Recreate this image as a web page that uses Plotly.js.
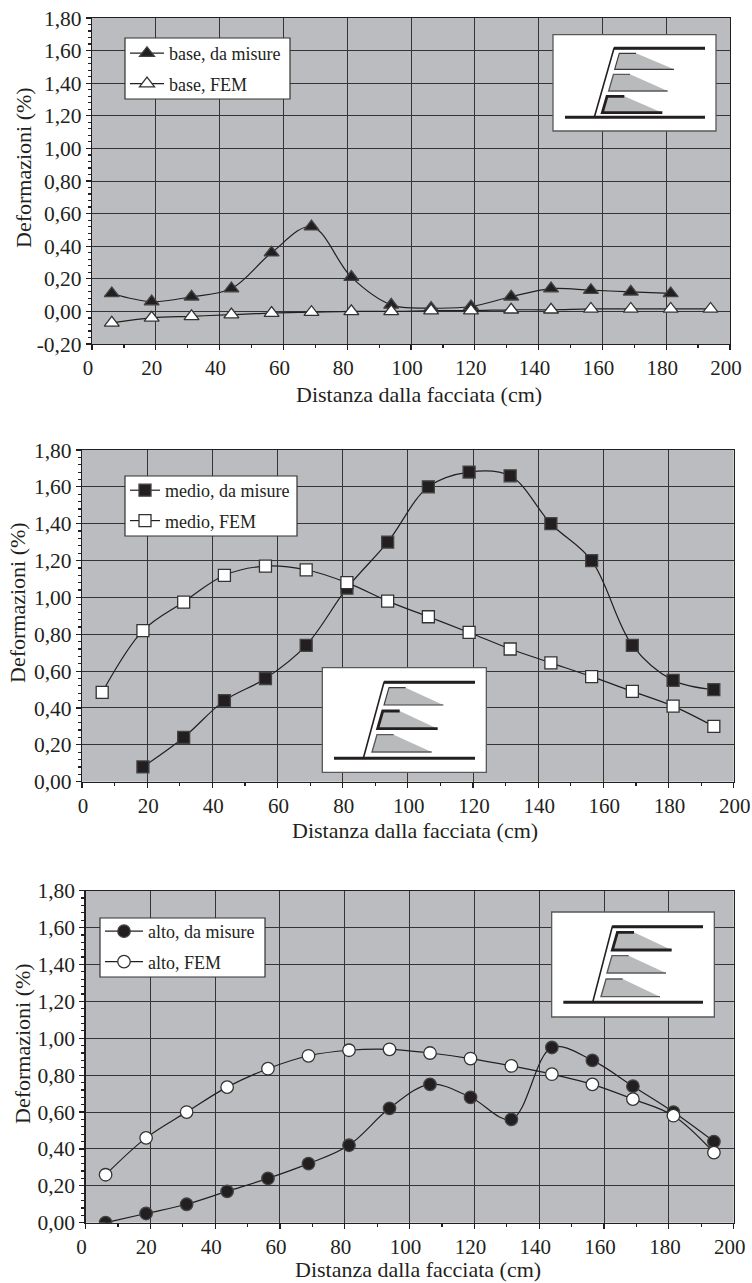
<!DOCTYPE html>
<html><head><meta charset="utf-8">
<script src="https://cdn.plot.ly/plotly-3.0.1.min.js"></script>
<style>html,body{margin:0;padding:0;background:#fff}</style></head>
<body><div id="g" style="width:752px;height:1283px"></div>
<script>
const distanza=[6.2,18.7,31.2,43.7,56.3,68.8,81.3,93.8,106.3,118.8,131.4,143.9,156.4,168.9,181.4,193.9];
const baseMisure=[0.11,0.06,0.09,0.14,0.36,0.52,0.21,0.04,0.02,0.03,0.09,0.14,0.13,0.12,0.11];
const baseFEM=[-0.07,-0.04,-0.03,-0.02,-0.01,-0.005,0,0,0.005,0.005,0.01,0.01,0.015,0.015,0.015,0.015];
const medioX=distanza.slice(1);
const medioMisure=[0.08,0.24,0.44,0.56,0.74,1.05,1.30,1.60,1.68,1.66,1.40,1.20,0.74,0.55,0.50];
const medioFEM=[0.485,0.82,0.975,1.12,1.17,1.15,1.08,0.98,0.895,0.81,0.72,0.645,0.57,0.49,0.41,0.30];
const altoMisure=[0,0.05,0.10,0.17,0.24,0.32,0.42,0.62,0.75,0.68,0.56,0.95,0.88,0.74,0.60,0.44];
const altoFEM=[0.26,0.46,0.60,0.735,0.835,0.905,0.935,0.94,0.92,0.89,0.85,0.805,0.75,0.67,0.58,0.38];
const yTickVals=[-0.2,0,0.2,0.4,0.6,0.8,1,1.2,1.4,1.6,1.8];
const yTickText=['-0,20','0,00','0,20','0,40','0,60','0,80','1,00','1,20','1,40','1,60','1,80'];
const xTitle='Distanza dalla facciata (cm)';
const yTitle='Deformazioni (%)';

const W=752,H=1283,FONT='"Liberation Serif","Times New Roman",serif',INK='#231f20';
const xp=p=>p/W, yp=p=>1-p/H;
const plots=[
 {l:92,r:730,t:18,b:344,ymin:-0.2,shift:-4,yt:[23,168],xt:[418.5,394]},
 {l:82,r:733.7,t:450,b:781.7,ymin:0,shift:1,yt:[17,603],xt:[415,830.5]},
 {l:85.5,r:733.7,t:890.7,b:1222.7,ymin:0,shift:-4,yt:[22,1044],xt:[418,1269.5]}
];
const layout={width:W,height:H,margin:{l:0,r:0,t:0,b:0},paper_bgcolor:'#fff',plot_bgcolor:'#bbbcbf',
 separators:',.',showlegend:true,font:{family:FONT,color:INK},shapes:[],annotations:[]};
plots.forEach((p,i)=>{
 const s=i?String(i+1):'';
 layout['xaxis'+s]={domain:[xp(p.l),xp(p.r)],range:[0,200],anchor:'y'+s,dtick:20,tick0:0,ticks:'outside',ticklen:5,tickwidth:1.2,tickcolor:INK,
  showgrid:true,gridcolor:'#343436',gridwidth:1,zeroline:false,showline:true,mirror:true,linecolor:INK,linewidth:1.2,
  tickfont:{size:21,family:FONT,color:INK},ticklabelshift:p.shift,
  minor:{dtick:10,ticks:'outside',ticklen:3,tickcolor:INK,showgrid:false}};
 layout['yaxis'+s]={domain:[yp(p.b),yp(p.t)],range:[p.ymin,1.8],anchor:'x'+s,tickmode:'array',tickvals:yTickVals,ticktext:yTickText,ticks:'outside',ticklen:5,tickwidth:1.2,tickcolor:INK,
  showgrid:true,gridcolor:'#343436',gridwidth:1,zeroline:false,showline:true,mirror:true,linecolor:INK,linewidth:1.2,
  tickfont:{size:21.5,family:FONT,color:INK},
  minor:{dtick:0.04,tick0:0,ticks:'outside',ticklen:3,tickcolor:INK,showgrid:false}};
 layout.annotations.push({xref:'paper',yref:'paper',x:xp(p.xt[0]),y:yp(p.xt[1]),text:xTitle,showarrow:false,xanchor:'center',yanchor:'middle',font:{size:22,family:FONT,color:INK}});
 layout.annotations.push({xref:'paper',yref:'paper',x:xp(p.yt[0]),y:yp(p.yt[1]),text:yTitle,showarrow:false,textangle:-90,xanchor:'center',yanchor:'middle',font:{size:22,family:FONT,color:INK}});
});
function rect(x0,y0,x1,y1,col,w){
 layout.shapes.push({type:'rect',xref:'paper',yref:'paper',layer:'above',x0:xp(x0),x1:xp(x1),y0:yp(y1),y1:yp(y0),fillcolor:'#fff',line:{color:col,width:w}});
}
const legendBoxes=[[125,38,290,99,35,34],[125,476,297,536,472,30],[100,918,265,977,913,38]];
legendBoxes.forEach((b,i)=>{
 rect(b[0],b[1],b[2],b[3],'#333',1.2);
 layout['legend'+(i?i+1:'')]={x:xp(b[0]),y:yp(b[4]),xanchor:'left',yanchor:'top',bgcolor:'rgba(0,0,0,0)',borderwidth:0,
  font:{size:18,family:FONT,color:INK},tracegroupgap:4,traceorder:'grouped',itemwidth:b[5]};
});
function tr(name,x,y,sym,fill,i){
 const s=i?String(i+1):'';
 return {type:'scatter',mode:'lines+markers',name:name,x:x,y:y,xaxis:'x'+s,yaxis:'y'+s,legend:'legend'+s,legendgroup:name,
  line:{shape:'spline',smoothing:1,color:INK,width:1.2},
  marker:{symbol:sym,size:sym==='square'?12:(sym==='circle'?12.5:13),color:fill,line:{color:fill==='#fff'?'#333':'#444',width:1.3}}};
}
const data=[
 tr('base, da misure',distanza.slice(0,15),baseMisure,'triangle-up',INK,0),
 tr('base, FEM',distanza,baseFEM,'triangle-up','#fff',0),
 tr('medio, da misure',medioX,medioMisure,'square',INK,1),
 tr('medio, FEM',distanza,medioFEM,'square','#fff',1),
 tr('alto, da misure',distanza,altoMisure,'circle',INK,2),
 tr('alto, FEM',distanza,altoFEM,'circle','#fff',2)
];
function inset(ox,oy,r,m,layers){
 const X=v=>xp(ox+v/3),Y=v=>yp(oy+v/3);
 const P=a=>'M'+a.map(q=>X(q[0])+','+Y(q[1])).join('L');
 const add=(path,fill,col,w)=>layout.shapes.push({type:'path',xref:'paper',yref:'paper',layer:'above',path:path,fillcolor:fill||'rgba(0,0,0,0)',line:{color:col||'rgba(0,0,0,0)',width:w||0}});
 add(P([[r[0],r[1]],[r[2],r[1]],[r[2],r[3]],[r[0],r[3]]])+'Z','#fff','#58585a',1.3);
 layers.forEach(L=>{
  const [bl,yt,yb,xt,xe,w,c]=L; const tl=bl+(yb-yt)*0.288;
  add(P([[tl,yt],[xt,yt],[xe,yb],[bl,yb]])+'Z','#b9babc');
  add(P([[xt,yt],[tl,yt],[bl,yb],[xe,yb]]),null,c,w);
 });
 add(P([[m.foot,m.by],[m.tx,m.ty],[m.xe,m.ty]]),null,'#231f20',1.6);
 add(P([[m.tx,m.ty],[m.xe,m.ty]]),null,'#231f20',3);
 add(P([[m.bx,m.by],[m.xe,m.by]]),null,'#231f20',3);
}
const thin=[1.1,'#3a3a3c'],med=[1.4,'#5a5a5c'],thick=[2.8,'#231f20'];
inset(530,20,[69,44,558,333],{tx:252,ty:85,by:292,bx:105,xe:525,foot:193},
 [[254,100,148,318,432,...thin],[236,163,213,300,413,...med],[217,229,278,283,397,...thick]]);
inset(310,655,[37,38,529,352],{tx:222,ty:82,by:310,bx:72,xe:495,foot:160},
 [[222,98,150,287,400,...thin],[203,168,221,269,383,...thick],[186,239,291,251,365,...med]]);
inset(530,875,[65,111,553,426],{tx:247,ty:155,by:382,bx:100,xe:519,foot:188},
 [[247,172,225,312,425,...thick],[231,242,294,296,408,...med],[213,312,365,278,390,...med]]);
Plotly.newPlot('g',data,layout,{staticPlot:true,displayModeBar:false});
</script></body></html>
